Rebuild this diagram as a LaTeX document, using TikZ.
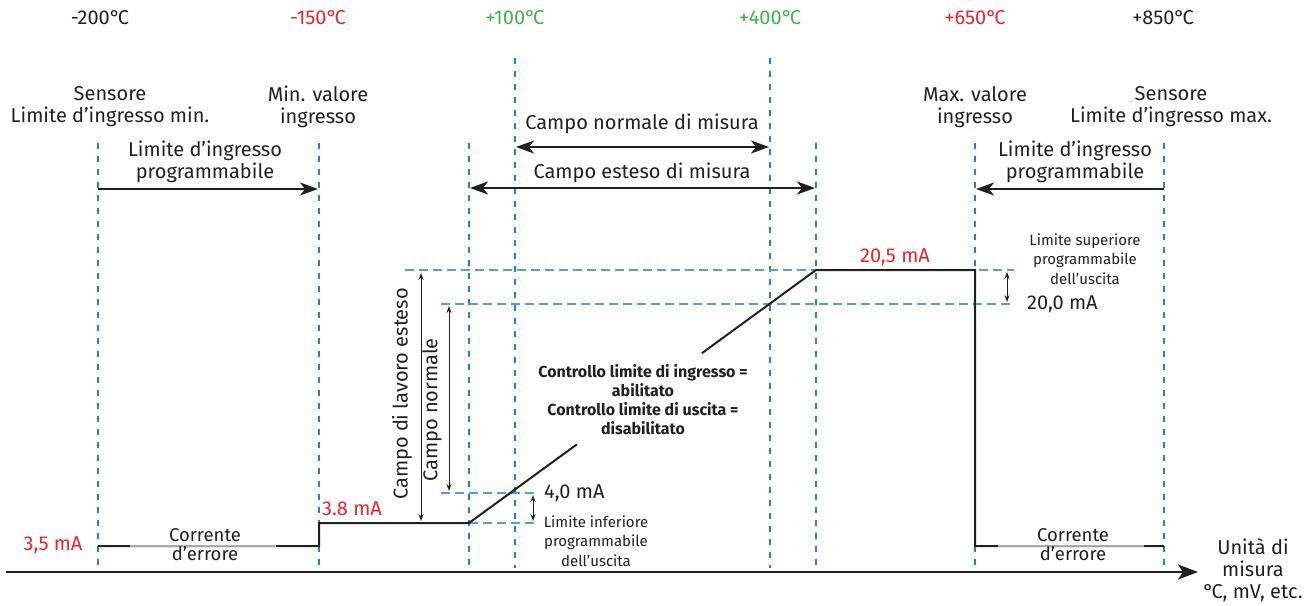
\documentclass[tikz,border=0pt]{standalone}
\usepackage{fontspec}
\setmainfont{Fira Sans}
\usetikzlibrary{arrows.meta,calc}
\definecolor{ink}{HTML}{231F20}
\definecolor{tred}{HTML}{E8262B}
\definecolor{tgreen}{HTML}{3DB54A}
\definecolor{vblue}{HTML}{2480C8}
\definecolor{hblue}{HTML}{5B9BD5}
\definecolor{egray}{HTML}{A8A8A8}
\newcommand{\dgC}{°\kern-0.12em C}
\begin{document}
\begin{tikzpicture}[x=1pt,y=-1pt,
  lbl/.style={font=\fontsize{20}{22}\selectfont, text=ink, align=center, inner sep=0pt},
  midlbl/.style={font=\fontsize{18.5}{19}\selectfont, text=ink, align=center, inner sep=0pt},
  smalllbl/.style={font=\fontsize{15}{19.5}\selectfont, text=ink, align=center, inner sep=0pt},
  boldlbl/.style={font=\fontsize{16}{19}\selectfont\bfseries, text=ink, align=center, inner sep=0pt},
  vdash/.style={draw=vblue, line width=1.3pt, dash pattern=on 6pt off 7pt},
  hdash/.style={draw=hblue, line width=2pt, dash pattern=on 9pt off 5pt},
  graphline/.style={draw=ink, line width=2pt},
  bigarrow/.style={draw=ink, line width=2.2pt, -{Stealth[length=18pt,width=13pt,inset=5pt]}},
  bigboth/.style={draw=ink, line width=2.2pt, {Stealth[length=18pt,width=13pt,inset=5pt]}-{Stealth[length=18pt,width=13pt,inset=5pt]}},
  thinboth/.style={draw=ink, line width=1pt, {Stealth[length=7pt,width=5pt]}-{Stealth[length=7pt,width=5pt]}},
]
\useasboundingbox (0,0) rectangle (1311,605);

% top temperature labels
\node[lbl] (t1) at (100,18) {-200\dgC};
\node[lbl, text=tred] (t2) at (318,18) {-150\dgC};
\node[lbl, text=tgreen] (t3) at (515,18) {+100\dgC};
\node[lbl, text=tgreen] (t4) at (770,18) {+400\dgC};
\node[lbl, text=tred] (t5) at (975,18) {+650\dgC};
\node[lbl, text=ink] (t6) at (1163,18) {+850\dgC};

% second-row labels
\node[lbl] (s1) at (110,107) {Sensore\\Limite d’ingresso min.};
\node[lbl] (s2) at (318,107) {Min. valore\\ingresso};
\node[lbl] (s3) at (975,107) {Max. valore\\ingresso};
\node[lbl] (s4) at (1171,107) {Sensore\\Limite d’ingresso max.};

% vertical dashed lines
\coordinate (v1t) at (98,143);  \coordinate (v1b) at (98,568);
\coordinate (v2t) at (319,143); \coordinate (v2b) at (319,568);
\coordinate (v3t) at (469,143); \coordinate (v3b) at (469,568);
\coordinate (v4t) at (515,58);  \coordinate (v4b) at (515,568);
\coordinate (v5t) at (770,58);  \coordinate (v5b) at (770,568);
\coordinate (v6t) at (816,143); \coordinate (v6b) at (816,568);
\coordinate (v7t) at (975,143); \coordinate (v7b) at (975,568);
\coordinate (v8t) at (1164,143); \coordinate (v8b) at (1164,568);
\foreach \i in {1,...,8} { \draw[vdash] (v\i t) -- (v\i b); }

% range arrows
\node[lbl] (pl) at (205,162) {Limite d’ingresso\\programmabile};
\coordinate (pla) at (98,189); \coordinate (plb) at (318,189);
\draw[bigarrow] (pla) -- (plb);
\node[lbl] (pr) at (1075,162) {Limite d’ingresso\\programmabile};
\coordinate (pra) at (1164,189); \coordinate (prb) at (976,189);
\draw[bigarrow] (pra) -- (prb);

\node[lbl] (cn) at (642,124) {Campo normale di misura};
\coordinate (cna) at (516,147); \coordinate (cnb) at (769,147);
\draw[bigboth] (cna) -- (cnb);
\node[lbl] (ce) at (642,173) {Campo esteso di misura};
\coordinate (cea) at (470,188); \coordinate (ceb) at (815,188);
\draw[bigboth] (cea) -- (ceb);

% horizontal dashed reference lines
\coordinate (h1a) at (405,270); \coordinate (h1b) at (1014,270);
\coordinate (h2a) at (441,304); \coordinate (h2b) at (1014,304);
\coordinate (h3a) at (441,493); \coordinate (h3b) at (537,493);
\coordinate (h4a) at (469,523); \coordinate (h4b) at (537,523);
\draw[hdash] (h1a) -- (h1b);
\draw[hdash] (h2a) -- (h2b);
\draw[hdash] (h3a) -- (h3b);
\draw[hdash] (h4a) -- (h4b);

% x axis
\coordinate (ax0) at (6,572); \coordinate (ax1) at (1198,572);
\draw[draw=ink, line width=2.5pt, -{Stealth[length=20pt,width=15pt,inset=5pt]}] (ax0) -- (ax1);
\node[lbl] (unit) at (1253,570) {Unità di\\misura\\\dgC, mV, etc.};

% output graph
\coordinate (g1) at (98,546);
\coordinate (g2) at (319,546);
\coordinate (g3) at (319,523);
\coordinate (g4) at (469,523);
\coordinate (g5) at (816,270);
\coordinate (g6) at (975,270);
\coordinate (g7) at (975,546);
\coordinate (g8) at (1164,546);
\draw[graphline] (g1) -- (g2) -- (g3) -- (g4) -- ($(g4)!0.311!(g5)$);
\draw[graphline] ($(g4)!0.671!(g5)$) -- (g5) -- (g6) -- (g7) -- (g8);
\coordinate (e1a) at (130,546); \coordinate (e1b) at (276,546);
\draw[draw=egray, line width=2pt] (e1a) -- (e1b);
\coordinate (e2a) at (998,546); \coordinate (e2b) at (1144,546);
\draw[draw=egray, line width=2pt] (e2a) -- (e2b);
\node[midlbl] (ec1) at (205,545) {Corrente\\d’errore};
\node[midlbl] (ec2) at (1073,545) {Corrente\\d’errore};

% red current labels
\node[lbl, text=tred] (i35) at (53,545) {3,5 mA};
\node[lbl, text=tred, anchor=west] (i38) at (322,509) {3.8 mA};
\node[lbl, text=tred] (i205) at (895,257) {20,5 mA};

% vertical range arrows
\coordinate (we1) at (421,273); \coordinate (we2) at (421,521);
\draw[thinboth] (we1) -- (we2);
\node[lbl, rotate=90] (wel) at (402,394) {Campo di lavoro esteso};
\coordinate (wn1) at (449,306); \coordinate (wn2) at (449,491);
\draw[thinboth] (wn1) -- (wn2);
\node[lbl, rotate=90] (wnl) at (432,410) {Campo normale};

% lower programmable limit
\coordinate (lo1) at (533,495); \coordinate (lo2) at (533,521);
\draw[thinboth] (lo1) -- (lo2);
\node[lbl, anchor=west] (i40) at (544,493) {4,0 mA};
\node[smalllbl] (lol) at (596,541) {Limite inferiore\\programmabile\\dell’uscita};

% upper programmable limit
\coordinate (up1) at (1007,272); \coordinate (up2) at (1007,302);
\draw[thinboth] (up1) -- (up2);
\node[lbl, anchor=west] (i20) at (1027,304) {20,0 mA};
\node[smalllbl] (upl) at (1085,259) {Limite superiore\\programmabile\\dell’uscita};

% control note
\node[boldlbl] (ctl) at (643,400) {Controllo limite di ingresso =\\abilitato\\Controllo limite di uscita =\\disabilitato};
\end{tikzpicture}
\end{document}
